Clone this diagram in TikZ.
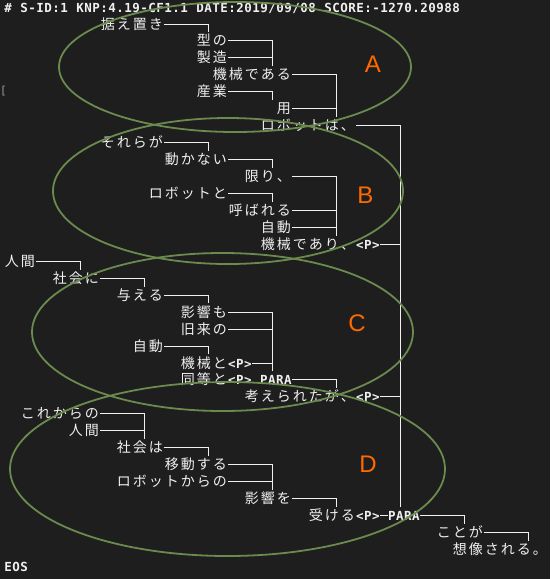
\documentclass[tikz,border=0pt]{standalone}
\usepackage{fontspec}
\usepackage{tikz}
\newfontfamily\jpface{Noto Sans CJK JP}
\newfontfamily\ttface{DejaVu Sans Mono}
\newfontfamily\tagface{Liberation Sans}
\definecolor{termbg}{HTML}{1E1E1E}
\definecolor{termfg}{HTML}{F0F0F0}
\definecolor{ringgreen}{HTML}{6B8A4E}
\definecolor{tagorange}{HTML}{FF6A00}

\makeatletter
\newcommand\cells[1]{\@tfor\cellch:=#1\do{\ifnum\expandafter`\cellch<256 \makebox[8pt]{\ttface\bfseries\fontsize{12.5}{12.5}\selectfont\cellch}\else\makebox[16pt]{\jpface\fontsize{14}{14}\selectfont\cellch}\fi}}
\makeatother

\tikzset{
  word/.style = {inner sep = 0pt, text height = 13.5pt, text depth = 3.5pt, anchor = east, text = termfg},
  link/.style = {draw = termfg, line width = 1pt},
  ring/.style = {draw = ringgreen, line width = 1.8pt},
  tag/.style = {text = tagorange, font = \tagface\fontsize{24}{24}\selectfont}
}

\begin{document}
\begin{tikzpicture}[x = 1pt, y = -1pt]
\fill[termbg] (0,0) rectangle (550,579);
\useasboundingbox (0,0) rectangle (550,579);

\coordinate (col0) at (80.7,0);
\coordinate (col1) at (144.7,0);
\coordinate (col2) at (208.7,0);
\coordinate (col3) at (272.7,0);
\coordinate (col4) at (336.7,0);
\coordinate (col5) at (400.7,0);
\coordinate (col6) at (464.7,0);
\coordinate (col7) at (528.7,0);

\node[word, anchor = west] (header) at (4,7) {\cells{\#~S-ID:1~KNP:4.19-CF1.1~DATE:2019/09/08~SCORE:-1270.20988}};
\node[text = gray!75, inner sep = 0pt, font = \ttface\fontsize{11}{11}\selectfont] (mark) at (3.5,91) {[};

\node[word] (sueoki) at (164,24) {\cells{据え置き}};
\node[word] (kata) at (228,40.9) {\cells{型の}};
\node[word] (seizou) at (228,57.9) {\cells{製造}};
\node[word] (kikaidearu) at (292,74.8) {\cells{機械である}};
\node[word] (sangyou) at (228,91.8) {\cells{産業}};
\node[word] (you) at (292,108.7) {\cells{用}};
\node[word] (robotwa) at (356,125.7) {\cells{ロボットは、}};
\node[word] (sorera) at (164,142.6) {\cells{それらが}};
\node[word] (ugokanai) at (228,159.6) {\cells{動かない}};
\node[word] (kagiri) at (292,176.5) {\cells{限り、}};
\node[word] (robotto) at (228,193.5) {\cells{ロボットと}};
\node[word] (yobareru) at (292,210.4) {\cells{呼ばれる}};
\node[word] (jidouB) at (292,227.4) {\cells{自動}};
\node[word] (kikaideari) at (380,244.3) {\cells{機械であり、<P>}};
\node[word] (ningenC) at (36,261.3) {\cells{人間}};
\node[word] (shakaini) at (100,278.2) {\cells{社会に}};
\node[word] (ataeru) at (164,295.2) {\cells{与える}};
\node[word] (eikyoumo) at (228,312.1) {\cells{影響も}};
\node[word] (kyurai) at (228,329.1) {\cells{旧来の}};
\node[word] (jidouC) at (164,346) {\cells{自動}};
\node[word] (kikaito) at (252,363) {\cells{機械と<P>}};
\node[word] (doutou) at (252,379.9) {\cells{同等と<P>}};
\node[word] (paraC) at (292,379.9) {\cells{PARA}};
\node[word] (kangae) at (380,396.9) {\cells{考えられたが、<P>}};
\node[word] (korekara) at (100,413.8) {\cells{これからの}};
\node[word] (ningenD) at (100,430.8) {\cells{人間}};
\node[word] (shakaiwa) at (164,447.7) {\cells{社会は}};
\node[word] (idou) at (228,464.7) {\cells{移動する}};
\node[word] (robotkara) at (228,481.6) {\cells{ロボットからの}};
\node[word] (eikyouwo) at (292,498.6) {\cells{影響を}};
\node[word] (ukeru) at (380,515.5) {\cells{受ける<P>}};
\node[word] (paraD) at (420,515.5) {\cells{PARA}};
\node[word] (kotoga) at (484,532.5) {\cells{ことが}};
\node[word] (souzou) at (548,549.4) {\cells{想像される。}};
\node[word, anchor = west] (eos) at (4,566.4) {\cells{EOS}};

\draw[link] (sueoki.east) -| (kata.north -| col2);
\draw[link] (kata.east) -| (kikaidearu.north -| col3);
\draw[link] (seizou.east) -| (kikaidearu.north -| col3);
\draw[link] (kikaidearu.east) -| (robotwa.north -| col4);
\draw[link] (sangyou.east) -| (you.north -| col3);
\draw[link] (you.east) -| (robotwa.north -| col4);
\draw[link] (robotwa.east) -| (paraD.north -| col5);
\draw[link] (sorera.east) -| (ugokanai.north -| col2);
\draw[link] (ugokanai.east) -| (kagiri.north -| col3);
\draw[link] (kagiri.east) -| (kikaideari.north -| col4);
\draw[link] (robotto.east) -| (yobareru.north -| col3);
\draw[link] (yobareru.east) -| (kikaideari.north -| col4);
\draw[link] (jidouB.east) -| (kikaideari.north -| col4);
\draw[link] (kikaideari.east) -| (paraD.north -| col5);
\draw[link] (ningenC.east) -| (shakaini.north -| col0);
\draw[link] (shakaini.east) -| (ataeru.north -| col1);
\draw[link] (ataeru.east) -| (eikyoumo.north -| col2);
\draw[link] (eikyoumo.east) -| (paraC.north -| col3);
\draw[link] (kyurai.east) -| (paraC.north -| col3);
\draw[link] (jidouC.east) -| (kikaito.north -| col2);
\draw[link] (kikaito.east) -| (paraC.north -| col3);
\draw[link] (paraC.east) -| (kangae.north -| col4);
\draw[link] (kangae.east) -| (paraD.north -| col5);
\draw[link] (korekara.east) -| (shakaiwa.north -| col1);
\draw[link] (ningenD.east) -| (shakaiwa.north -| col1);
\draw[link] (shakaiwa.east) -| (idou.north -| col2);
\draw[link] (idou.east) -| (eikyouwo.north -| col3);
\draw[link] (robotkara.east) -| (eikyouwo.north -| col3);
\draw[link] (eikyouwo.east) -| (ukeru.north -| col4);
\draw[link] (ukeru.east) -- (paraD.west);
\draw[link] (paraD.east) -| (kotoga.north -| col6);
\draw[link] (kotoga.east) -| (souzou.north -| col7);

\draw[ring] (235,67) ellipse [x radius = 176pt, y radius = 65pt];
\draw[ring] (228,191) ellipse [x radius = 175pt, y radius = 73pt];
\draw[ring] (222.5,332) ellipse [x radius = 190.5pt, y radius = 79pt];
\draw[ring] (227.5,469) ellipse [x radius = 217.5pt, y radius = 87pt];

\node[tag] (tagA) at (373,64) {A};
\node[tag] (tagB) at (365.5,195) {B};
\node[tag] (tagC) at (357,323) {C};
\node[tag] (tagD) at (368,464) {D};
\end{tikzpicture}
\end{document}
